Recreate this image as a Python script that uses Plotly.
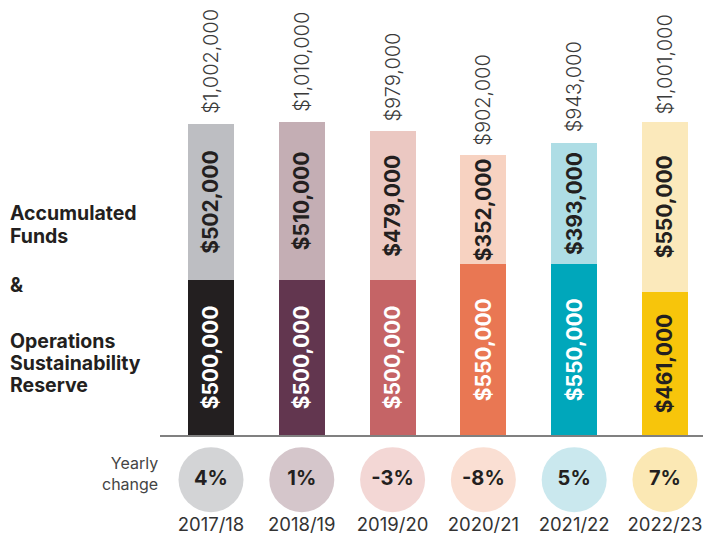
import plotly.graph_objects as go

years = ["2017/18", "2018/19", "2019/20", "2020/21", "2021/22", "2022/23"]
reserve = [500000, 500000, 500000, 550000, 550000, 461000]
accumulated = [502000, 510000, 479000, 352000, 393000, 550000]
totals = [1002000, 1010000, 979000, 902000, 943000, 1001000]
yearly_change = ["4%", "1%", "-3%", "-8%", "5%", "7%"]
left_lines = ["Accumulated", "Funds", "&", "Operations", "Sustainability", "Reserve"]

reserve_colors = ["#231f20", "#62364f", "#c56466", "#e97753", "#00a7bb", "#f7c50b"]
accum_colors = ["#bdbec2", "#c4aeb4", "#ebc8c2", "#f7d2c1", "#aedde5", "#fbe9bb"]
circle_colors = ["#d3d4d6", "#d5c6cb", "#f3d7d5", "#fadfd3", "#cae8ee", "#fbe8b4"]
reserve_text_colors = ["#ffffff"] * 5 + ["#231f20"]

FONT = "Inter"
xs = list(range(len(years)))

def money(v):
    return "${:,}".format(v)

fig = go.Figure()
fig.add_trace(go.Bar(
    x=xs, y=reserve, width=0.507, marker=dict(color=reserve_colors, line=dict(width=0)),
    text=[money(v) for v in reserve], textposition="inside", insidetextanchor="middle",
    textangle=-90, insidetextfont=dict(family=FONT, size=21, color=reserve_text_colors, weight="bold"),
    hoverinfo="skip", showlegend=False,
))
fig.add_trace(go.Bar(
    x=xs, y=accumulated, width=0.507, marker=dict(color=accum_colors, line=dict(width=0)),
    text=[money(v) for v in accumulated], textposition="inside", insidetextanchor="middle",
    textangle=-90, insidetextfont=dict(family=FONT, size=21, color="#231f20", weight="bold"),
    hoverinfo="skip", showlegend=False,
))
fig.add_trace(go.Scatter(
    x=xs, y=[0.575] * len(xs), yaxis="y2", mode="markers+text",
    marker=dict(size=65, color=circle_colors, line=dict(width=0)),
    text=yearly_change, textposition="middle center",
    textfont=dict(family=FONT, size=20, color="#231f20", weight="bold"),
    hoverinfo="skip", showlegend=False,
))
fig.add_trace(go.Scatter(
    x=xs, y=[0.13] * len(xs), yaxis="y2", mode="text",
    text=years, textposition="middle center",
    textfont=dict(family=FONT, size=18.5, color="#333333"),
    hoverinfo="skip", showlegend=False,
))

for i, t in enumerate(totals):
    fig.add_annotation(x=i, y=t, xref="x", yref="y", text=money(t), textangle=-90,
                       showarrow=False, yanchor="bottom", xanchor="center", yshift=8,
                       font=dict(family=FONT, size=20, color="#3a3a3a", weight=300))

left_font = dict(family=FONT, size=19.5, color="#231f20", weight="bold")
LX = -152 / 543
left_y = [213, 236, 285, 341, 363, 385]
for txt, yy in zip(left_lines, left_y):
    fig.add_annotation(xref="paper", yref="paper", x=LX, y=(540 - yy) / 540,
                       text=txt, showarrow=False, xanchor="left",
                       yanchor="middle", align="left", font=left_font)
fig.add_annotation(xref="paper", yref="y2", x=0.0, y=0.63, text="Yearly<br>change",
                   showarrow=False, xanchor="right", yanchor="middle", align="right",
                   font=dict(family=FONT, size=16, color="#444444"))

fig.update_layout(
    width=703, height=540, barmode="stack",
    margin=dict(l=160, r=0, t=0, b=0),
    paper_bgcolor="white", plot_bgcolor="white",
    xaxis=dict(range=[-0.5617, 5.419], showgrid=False, zeroline=False, showticklabels=False,
               ticks="", showline=True, linecolor="#808080", linewidth=1.5, anchor="y"),
    yaxis=dict(domain=[105 / 540, 1], range=[0, 1403000], visible=False),
    yaxis2=dict(domain=[0, 105 / 540], range=[0, 1], visible=False, anchor="x"),
)

fig.write_html("out.html", config={"displayModeBar": False},
               post_script="document.body.style.margin='0';document.body.style.overflow='hidden';")
